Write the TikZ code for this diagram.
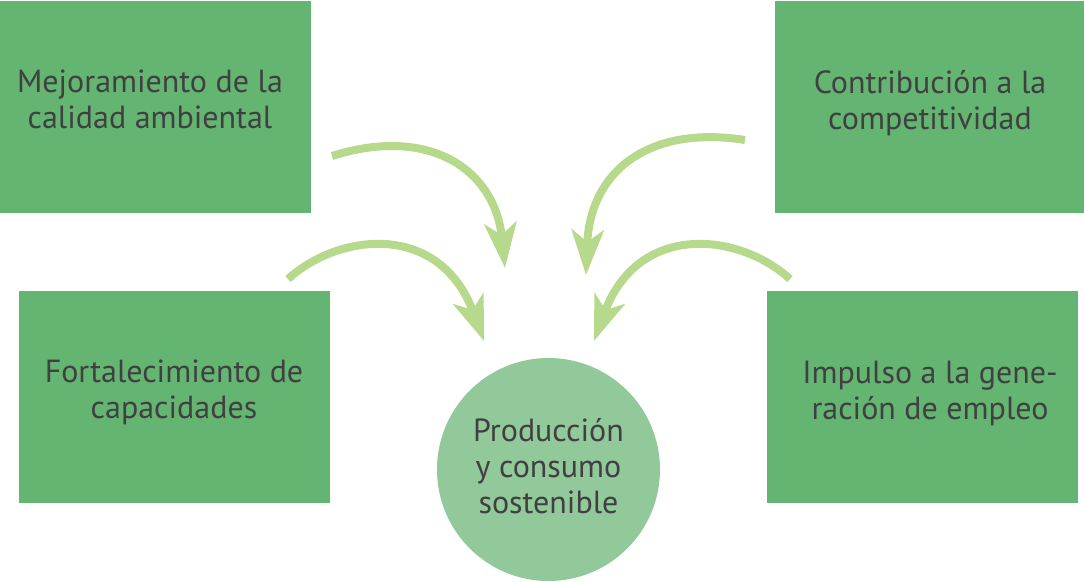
\documentclass[tikz,border=0pt]{standalone}
\usepackage{fontspec}
\setmainfont{PT Sans}
\usetikzlibrary{arrows.meta}
\definecolor{boxgreen}{HTML}{64B472}
\definecolor{arrowgreen}{HTML}{B7D98B}
\definecolor{circgreen}{HTML}{92C99A}
\definecolor{txt}{HTML}{404040}
\begin{document}
\begin{tikzpicture}[x=1pt,y=-1pt,
  box/.style={rectangle, fill=boxgreen, draw=none, inner sep=0pt, outer sep=0pt,
    minimum width=311pt, minimum height=212pt, anchor=north west},
  circ/.style={circle, fill=circgreen, draw=none, inner sep=0pt, minimum size=223pt},
  lbl/.style={anchor=base, align=center, inner sep=0pt, text=txt,
    font=\fontsize{32}{36}\selectfont},
  arr/.style={draw=arrowgreen, line width=8pt,
    -{Stealth[length=45pt,width=32pt,inset=12pt]}}]
\useasboundingbox (0,0) rectangle (1084,581);
\node[box] (b1) at (0,1) {};
\node[box, minimum width=309pt] (b2) at (775,1) {};
\node[box] (b3) at (19,291) {};
\node[box] (b4) at (767,291) {};
\node[circ] (c) at (548.5,469.5) {};
\node[lbl] (t1) at (150,128.5) {Mejoramiento de la\\calidad ambiental};
\node[lbl] (t2) at (930,129) {Contribución a la\\competitividad};
\node[lbl] (t3) at (174,418.5) {Fortalecimiento de\\capacidades};
\node[lbl] (t4) at (930,419) {Impulso a la gene-\\ración de empleo};
\node[lbl] (t5) at (548.5,513) {Producción\\y consumo\\sostenible};
\coordinate (a1s) at (332,156);
\coordinate (a1e) at (505,268);
\coordinate (a2s) at (288,279);
\coordinate (a2e) at (484,341);
\coordinate (a3s) at (745,140);
\coordinate (a3e) at (586,275);
\coordinate (a4s) at (790,279);
\coordinate (a4e) at (594,341);
\draw[arr] (a1s) .. controls (430,125) and (495,170) .. (a1e);
\draw[arr] (a2s) .. controls (340,232) and (440,222) .. (a2e);
\draw[arr] (a3s) .. controls (650,125) and (590,170) .. (a3e);
\draw[arr] (a4s) .. controls (738,232) and (638,222) .. (a4e);
\end{tikzpicture}
\end{document}
